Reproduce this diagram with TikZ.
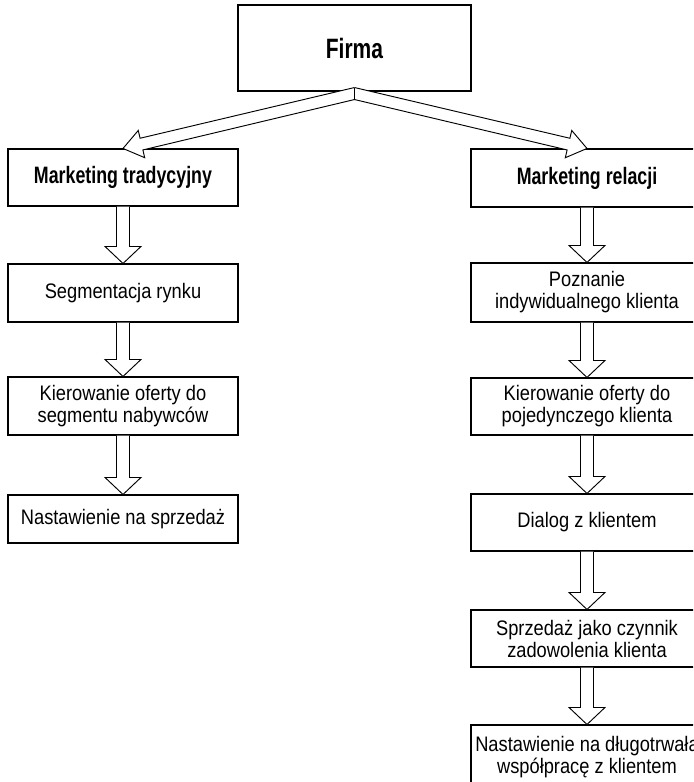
\documentclass[tikz,border=0pt]{standalone}
\usepackage{fontspec}
\setmainfont[FakeStretch=0.87]{Liberation Sans}
\newfontfamily\titlefont[FakeStretch=0.75]{Liberation Sans}
\usetikzlibrary{calc}
\tikzset{
  box/.style={draw, line width=0.8pt, inner sep=2pt, align=center,
    font=\fontsize{15.75pt}{16.5pt}\selectfont},
  titlebox/.style={box, font=\titlefont\bfseries\fontsize{17.8pt}{20pt}\selectfont},
  lcol/.style={minimum width=172.5pt},
  rcol/.style={minimum width=174pt},
  fatarrow/.style={draw, fill=white, line width=0.7pt, line join=miter},
}
% #1 start point on +90 side, #2 start point on -90 side, #3 reference start, #4 tip, #5 half shaft, #6 half head, #7 head length
\newcommand\fatarrowpts[7]{%
  \coordinate (fab) at ($(#4)!#7!(#3)$);
  \draw[fatarrow] (#1) -- ($(fab)!#5!-90:(#3)$) -- ($(fab)!#6!-90:(#3)$) -- (#4)
    -- ($(fab)!#6!90:(#3)$) -- ($(fab)!#5!90:(#3)$) -- (#2);
}
\newcommand\fatarrow[5]{%
  \fatarrowpts{$(#1)!#3!90:(#2)$}{$(#1)!#3!-90:(#2)$}{#1}{#2}{#3}{#4}{#5}%
}
\begin{document}
\begin{tikzpicture}[x=0.75pt,y=-0.75pt]
\clip (0,0) rectangle (693,782);
% top
\node[titlebox, minimum width=174.75pt, minimum height=64.5pt,
  font=\titlefont\bfseries\fontsize{21pt}{24pt}\selectfont] (firma) at (354.5,48) {Firma};
% left column
\node[titlebox, lcol, minimum height=42.75pt] (mt) at (123,177.5) {Marketing tradycyjny};
\node[box, lcol, minimum height=43.5pt] (seg) at (123,293) {Segmentacja rynku};
\node[box, lcol, minimum height=43.5pt] (kl) at (123,406) {Kierowanie oferty do\\segmentu nabywców};
\node[box, lcol, minimum height=36pt] (nl) at (123,519) {Nastawienie na sprzedaż};
% right column
\node[titlebox, rcol, minimum height=43.5pt] (mr) at (587,178) {Marketing relacji};
\node[box, rcol, minimum height=44.25pt] (pz) at (587,292.5) {Poznanie\\indywidualnego klienta};
\node[box, rcol, minimum height=42.75pt] (kr) at (587,406.5) {Kierowanie oferty do\\pojedynczego klienta};
\node[box, rcol, minimum height=42.75pt] (dl) at (587,522.5) {Dialog z klientem};
\node[box, rcol, minimum height=42.75pt] (sp) at (587,638.5) {Sprzedaż jako czynnik\\zadowolenia klienta};
\node[box, rcol, minimum height=48.75pt] (nr) at (587,757.5) {Nastawienie na długotrwała\\współpracę z klientem};
% slanted arrows from Firma
\coordinate (s) at ([yshift=-1.5pt]firma.south);
\coordinate (apex) at ([yshift=4.5pt]s);
\coordinate (inner) at ([yshift=-4.5pt]s);
\fatarrowpts{inner}{apex}{s}{mt.north}{4.5pt}{10.5pt}{14.25pt}
\fatarrowpts{apex}{inner}{s}{mr.north}{4.5pt}{10.5pt}{14.25pt}
\draw[line width=0.7pt] (apex) -- (inner);
% down arrows
\fatarrow{mt.south}{seg.north}{4.875pt}{13.5pt}{12.75pt}
\fatarrow{seg.south}{kl.north}{4.875pt}{13.5pt}{12.75pt}
\fatarrow{kl.south}{nl.north}{4.875pt}{13.5pt}{12.75pt}
\fatarrow{mr.south}{pz.north}{4.875pt}{13.5pt}{12.75pt}
\fatarrow{pz.south}{kr.north}{4.875pt}{13.5pt}{12.75pt}
\fatarrow{kr.south}{dl.north}{4.875pt}{13.5pt}{12.75pt}
\fatarrow{dl.south}{sp.north}{4.875pt}{13.5pt}{12.75pt}
\fatarrow{sp.south}{nr.north}{4.875pt}{13.5pt}{12.75pt}
\end{tikzpicture}
\end{document}
